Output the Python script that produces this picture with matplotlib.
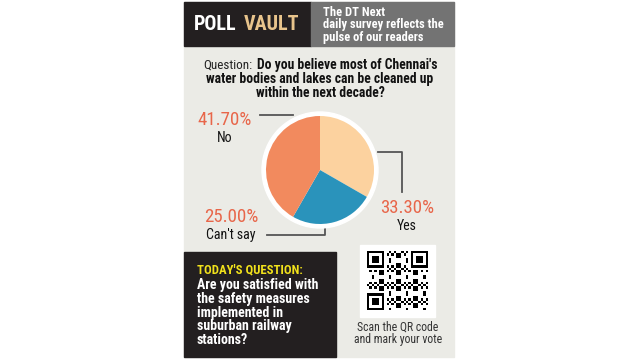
import matplotlib.pyplot as plt
import matplotlib.patches as mpatches
import numpy as np

# poll data
answers = ["Yes", "Can't say", "No"]
shares = [33.30, 25.00, 41.70]
slice_colors = ["#FCD29F", "#2A93BB", "#F28A5E"]

question = ["Do you believe most of Chennai's",
            "water bodies and lakes can be cleaned up",
            "within the next decade?"]
todays_q = ["Are you satisfied with", "the safety measures", "implemented in",
            "suburban railway", "stations?"]
header_right = ["The DT Next", "daily survey reflects the", "pulse of our readers"]

narrow = ["Roboto Condensed", "Roboto", "DejaVu Sans"]
pct_color = "#E8664A"
dark = "#231F20"

fig = plt.figure(figsize=(6.4, 3.59), dpi=100)
fig.patch.set_facecolor("white")
ax = fig.add_axes([0, 0, 1, 1])
ax.set_xlim(0, 640)
ax.set_ylim(359, 0)
ax.axis("off")

# card background
ax.add_patch(mpatches.Rectangle((184, 2), 270, 355, color="#EBEBE6", zorder=0))
# header
ax.add_patch(mpatches.Rectangle((184, 2), 127, 44, color=dark, zorder=1))
ax.add_patch(mpatches.Rectangle((311, 2), 143, 44, color="#737373", zorder=1))
ax.text(194, 25, "POLL", color="white", fontsize=14.5, fontweight="bold",
        family=narrow, va="center", ha="left")
ax.text(299, 25, "VAULT", color="#E8C48C", fontsize=14.5, fontweight="bold",
        family=narrow, va="center", ha="right")
for i, line in enumerate(header_right):
    ax.text(323, 12 + i * 12.5, line, color="white", fontsize=9, fontweight="bold",
            family=narrow, va="center", ha="left")

# question
q_y = [65, 79, 93]
ax.text(203, q_y[0], "Question:", color="#222", fontsize=9.4, family=narrow,
        va="center", ha="left")
ax.text(257, q_y[0], question[0], color="#111", fontsize=9.8, fontweight="bold",
        family=narrow, va="center", ha="left")
for y, line in zip(q_y[1:], question[1:]):
    ax.text(320, y, line, color="#111", fontsize=9.8, fontweight="bold",
            family=narrow, va="center", ha="center")

# pie
cx, cy, half = 320, 170, 60
pax = fig.add_axes([(cx - half) / 640, (359 - cy - half) / 359, 2 * half / 640, 2 * half / 359])
pax.add_patch(mpatches.Circle((0, 0), 58 / half, color="white", zorder=0))
pax.pie(shares, colors=slice_colors, startangle=90, counterclock=False,
        radius=54 / half, wedgeprops=dict(linewidth=0))
pax.set_xlim(-1, 1)
pax.set_ylim(-1, 1)
pax.set_aspect("auto")
pax.axis("off")

# labels and leader lines
lc = "#555555"
lab_pos = {"Yes": (407, 208), "Can't say": (231, 217), "No": (225, 120)}
for name, val in zip(answers, shares):
    x, y = lab_pos[name]
    ax.text(x, y, f"{val:.2f}%", color=pct_color, fontsize=13.6, family=narrow,
            va="center", ha="center")
    ax.text(x, y + 18, name, color="#111", fontsize=10, family=narrow,
            va="center", ha="center")
ax.plot([260, 293], [115, 115], color=lc, lw=1.3)
ax.plot([378, 402, 402], [152, 152, 192], color=lc, lw=1.3)
ax.plot([267, 325, 325], [235, 235, 228], color=lc, lw=1.3)

# today's question box
ax.add_patch(mpatches.Rectangle((184, 252), 152, 105, color=dark, zorder=1))
ax.text(197, 270, "TODAY'S QUESTION:", color="#F2E21B", fontsize=9.2,
        fontweight="bold", family=narrow, va="center", ha="left", zorder=2)
for i, line in enumerate(todays_q):
    ax.text(197, 285 + i * 13.8, line, color="white", fontsize=10,
            fontweight="bold", family=narrow, va="center", ha="left", zorder=2)

# QR code block (decorative pattern)
ax.add_patch(mpatches.Rectangle((360, 245), 75, 72, color="white", zorder=1))
n = 25
r, c = np.mgrid[0:n, 0:n]
qr = (((r * r * 3 + c * c * 5 + r * c * 7 + c) % 7) < 3).astype(float)
for (r0, c0) in [(0, 0), (0, n - 7), (n - 7, 0)]:
    qr[max(r0 - 1, 0):r0 + 8, max(c0 - 1, 0):c0 + 8] = 0
    qr[r0:r0 + 7, c0:c0 + 7] = 1
    qr[r0 + 1:r0 + 6, c0 + 1:c0 + 6] = 0
    qr[r0 + 2:r0 + 5, c0 + 2:c0 + 5] = 1
ax.imshow(qr, cmap="Greys", vmin=0, vmax=1, extent=(367, 428, 310, 251),
          interpolation="nearest", zorder=2)
ax.set_xlim(0, 640)
ax.set_ylim(359, 0)
ax.text(398, 327, "Scan the QR code", color="#333", fontsize=8.5, family=narrow,
        va="center", ha="center")
ax.text(398, 340, "and mark your vote", color="#333", fontsize=8.5, family=narrow,
        va="center", ha="center")

fig.savefig("out.png", dpi=100)
